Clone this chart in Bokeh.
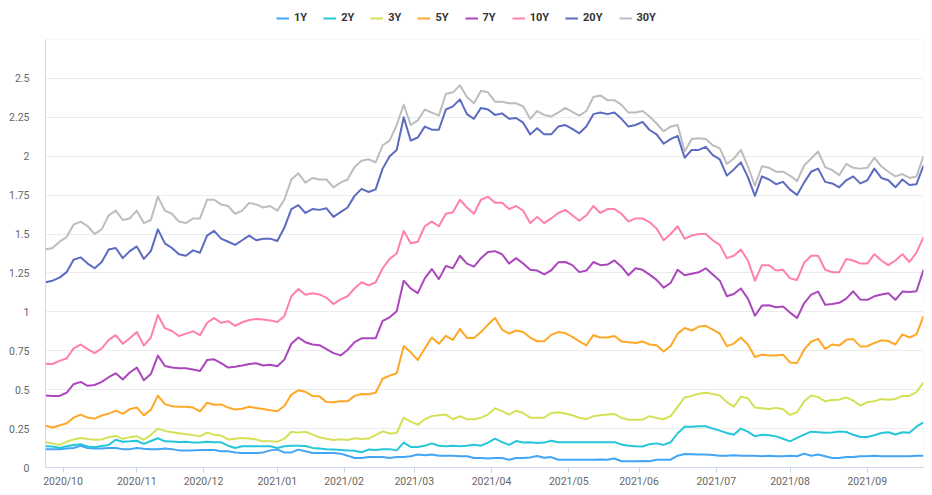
from bokeh.plotting import figure
from bokeh.models import Range1d, FixedTicker, NumeralTickFormatter, Legend, LegendItem, BoxAnnotation
from bokeh.embed import file_html
from bokeh.resources import INLINE

# trading-day index (every second trading day, 2020-09-24 .. 2021-09-24)
day_index = list(range(0, 251, 2))

month_ticks = [5, 26, 45, 66, 85, 105, 127, 149, 169, 191, 212, 234]
month_labels = ["2020/10", "2020/11", "2020/12", "2021/01", "2021/02", "2021/03",
                "2021/04", "2021/05", "2021/06", "2021/07", "2021/08", "2021/09"]
y_ticks = [0, 0.25, 0.5, 0.75, 1, 1.25, 1.5, 1.75, 2, 2.25, 2.5]
y_plot_top = 2.75

series_names = ["1Y", "2Y", "3Y", "5Y", "7Y", "10Y", "20Y", "30Y"]
series_colors = ["#42a5f5", "#26c6da", "#d4e157", "#ffa726", "#ab47bc", "#ff80ab", "#5c6bc0", "#bdbdbd"]

y1 = [0.118, 0.118, 0.118, 0.122, 0.125, 0.14, 0.125, 0.122, 0.122, 0.125, 0.125, 0.118, 0.118, 0.125, 0.12,
      0.118, 0.118, 0.122, 0.118, 0.11, 0.11, 0.11, 0.113, 0.113, 0.113, 0.104, 0.104, 0.097, 0.093, 0.093,
      0.093, 0.097, 0.11, 0.115, 0.097, 0.097, 0.115, 0.104, 0.093, 0.093, 0.093, 0.093, 0.089,
      0.076, 0.061, 0.061, 0.067, 0.067, 0.067, 0.061, 0.067, 0.067, 0.072, 0.083, 0.078, 0.083, 0.076, 0.076,
      0.076, 0.072, 0.072, 0.061, 0.061, 0.058, 0.061, 0.061, 0.05, 0.061, 0.061, 0.065, 0.074, 0.063, 0.067,
      0.05, 0.05, 0.05, 0.05, 0.05, 0.05, 0.052, 0.05, 0.058, 0.04,
      0.04, 0.04, 0.042, 0.04, 0.05, 0.05, 0.05, 0.076, 0.087, 0.085, 0.083, 0.083, 0.08, 0.076, 0.076,
      0.078, 0.076, 0.076, 0.076, 0.072, 0.076, 0.072, 0.072, 0.076, 0.072, 0.089, 0.076, 0.083, 0.072, 0.061,
      0.061, 0.067, 0.067, 0.072, 0.072, 0.076, 0.072, 0.072, 0.072, 0.072, 0.072, 0.076, 0.076]
y2 = [0.136, 0.135, 0.125, 0.136, 0.145, 0.15, 0.135, 0.13, 0.138, 0.145, 0.178, 0.166, 0.168, 0.172, 0.152,
      0.17, 0.188, 0.168, 0.167, 0.164, 0.166, 0.16, 0.16, 0.165, 0.162, 0.162, 0.14, 0.125, 0.136, 0.136,
      0.136, 0.136, 0.136, 0.125, 0.136, 0.14, 0.14, 0.138, 0.126, 0.122, 0.117, 0.115, 0.112,
      0.11, 0.107, 0.098, 0.115, 0.113, 0.117, 0.118, 0.11, 0.16, 0.132, 0.132, 0.14, 0.155, 0.14, 0.137,
      0.14, 0.137, 0.14, 0.146, 0.14, 0.16, 0.185, 0.163, 0.145, 0.17, 0.16, 0.162, 0.157, 0.16, 0.172,
      0.162, 0.162, 0.162, 0.162, 0.162, 0.162, 0.162, 0.162, 0.163, 0.148,
      0.14, 0.136, 0.135, 0.15, 0.155, 0.145, 0.162, 0.22, 0.262, 0.262, 0.265, 0.265, 0.25, 0.237, 0.222,
      0.21, 0.25, 0.23, 0.20, 0.21, 0.207, 0.20, 0.185, 0.168, 0.19, 0.211, 0.23, 0.226, 0.223, 0.225,
      0.231, 0.228, 0.21, 0.196, 0.196, 0.207, 0.222, 0.226, 0.212, 0.226, 0.223, 0.262, 0.29]
y3 = [0.162, 0.155, 0.145, 0.165, 0.18, 0.19, 0.183, 0.179, 0.18, 0.195, 0.203, 0.184, 0.195, 0.20, 0.178,
      0.21, 0.25, 0.235, 0.226, 0.22, 0.213, 0.208, 0.20, 0.224, 0.211, 0.205, 0.18, 0.185, 0.19, 0.187,
      0.18, 0.168, 0.168, 0.165, 0.185, 0.23, 0.224, 0.23, 0.213, 0.194, 0.185, 0.176, 0.182,
      0.177, 0.188, 0.183, 0.186, 0.208, 0.232, 0.218, 0.222, 0.32, 0.295, 0.275, 0.31, 0.33, 0.335, 0.34,
      0.31, 0.329, 0.31, 0.31, 0.32, 0.34, 0.38, 0.362, 0.34, 0.365, 0.35, 0.32, 0.32, 0.32, 0.35,
      0.355, 0.347, 0.336, 0.32, 0.31, 0.33, 0.335, 0.34, 0.344, 0.318,
      0.307, 0.306, 0.307, 0.33, 0.318, 0.31, 0.33, 0.39, 0.45, 0.46, 0.474, 0.48, 0.472, 0.463, 0.42,
      0.39, 0.455, 0.445, 0.385, 0.38, 0.376, 0.383, 0.374, 0.338, 0.355, 0.425, 0.462, 0.452, 0.425, 0.434,
      0.436, 0.45, 0.43, 0.398, 0.42, 0.425, 0.44, 0.436, 0.44, 0.46, 0.46, 0.485, 0.547]
y5 = [0.269, 0.257, 0.27, 0.284, 0.32, 0.34, 0.32, 0.314, 0.334, 0.346, 0.365, 0.345, 0.375, 0.386, 0.335,
      0.37, 0.462, 0.407, 0.393, 0.39, 0.39, 0.385, 0.361, 0.416, 0.403, 0.405, 0.385, 0.372, 0.377, 0.39,
      0.382, 0.376, 0.368, 0.361, 0.395, 0.468, 0.496, 0.486, 0.46, 0.457, 0.42, 0.419, 0.425,
      0.425, 0.46, 0.472, 0.47, 0.48, 0.57, 0.59, 0.605, 0.78, 0.74, 0.69, 0.765, 0.835, 0.795, 0.846,
      0.82, 0.89, 0.832, 0.832, 0.87, 0.918, 0.96, 0.886, 0.86, 0.88, 0.87, 0.835, 0.811, 0.811, 0.852,
      0.87, 0.864, 0.839, 0.81, 0.785, 0.85, 0.835, 0.835, 0.845, 0.81,
      0.804, 0.80, 0.81, 0.79, 0.785, 0.745, 0.779, 0.86, 0.896, 0.88, 0.905, 0.91, 0.886, 0.86, 0.78,
      0.796, 0.835, 0.79, 0.71, 0.725, 0.72, 0.72, 0.725, 0.675, 0.672, 0.757, 0.808, 0.826, 0.762, 0.79,
      0.783, 0.82, 0.825, 0.778, 0.779, 0.80, 0.817, 0.812, 0.79, 0.855, 0.835, 0.855, 0.972]
y7 = [0.462, 0.46, 0.46, 0.48, 0.535, 0.55, 0.525, 0.53, 0.55, 0.58, 0.605, 0.565, 0.61, 0.642, 0.56,
      0.60, 0.719, 0.652, 0.642, 0.637, 0.637, 0.63, 0.62, 0.69, 0.695, 0.67, 0.642, 0.647, 0.655, 0.665,
      0.67, 0.655, 0.66, 0.65, 0.693, 0.795, 0.835, 0.805, 0.79, 0.786, 0.76, 0.735, 0.72,
      0.755, 0.805, 0.83, 0.83, 0.83, 0.942, 0.965, 1.004, 1.20, 1.15, 1.12, 1.215, 1.275, 1.21, 1.295,
      1.28, 1.36, 1.31, 1.29, 1.345, 1.385, 1.39, 1.37, 1.31, 1.345, 1.31, 1.27, 1.265, 1.24, 1.267,
      1.318, 1.32, 1.30, 1.255, 1.265, 1.32, 1.30, 1.304, 1.33, 1.29,
      1.235, 1.28, 1.27, 1.239, 1.205, 1.155, 1.186, 1.27, 1.235, 1.245, 1.254, 1.28, 1.24, 1.20, 1.10,
      1.115, 1.15, 1.085, 0.975, 1.04, 1.042, 1.03, 1.035, 0.995, 0.96, 1.055, 1.11, 1.13, 1.046, 1.05,
      1.058, 1.085, 1.132, 1.079, 1.077, 1.10, 1.111, 1.12, 1.077, 1.13, 1.128, 1.132, 1.27]
y10 = [0.667, 0.665, 0.685, 0.70, 0.765, 0.79, 0.76, 0.735, 0.765, 0.82, 0.85, 0.795, 0.83, 0.87, 0.783,
       0.835, 0.98, 0.895, 0.877, 0.845, 0.86, 0.875, 0.85, 0.93, 0.96, 0.93, 0.94, 0.91, 0.933, 0.948,
       0.954, 0.95, 0.945, 0.935, 0.972, 1.10, 1.147, 1.11, 1.12, 1.112, 1.09, 1.05, 1.08,
       1.10, 1.15, 1.19, 1.17, 1.19, 1.28, 1.34, 1.375, 1.52, 1.44, 1.45, 1.55, 1.58, 1.55, 1.63,
       1.64, 1.72, 1.67, 1.63, 1.72, 1.74, 1.70, 1.70, 1.66, 1.68, 1.65, 1.57, 1.61, 1.57, 1.60,
       1.635, 1.655, 1.62, 1.585, 1.62, 1.68, 1.635, 1.66, 1.66, 1.63,
       1.58, 1.60, 1.60, 1.575, 1.535, 1.46, 1.50, 1.55, 1.47, 1.49, 1.50, 1.50, 1.46, 1.43, 1.345,
       1.36, 1.40, 1.33, 1.20, 1.30, 1.30, 1.265, 1.27, 1.215, 1.205, 1.315, 1.36, 1.36, 1.27, 1.255,
       1.255, 1.34, 1.33, 1.31, 1.31, 1.37, 1.33, 1.30, 1.33, 1.37, 1.32, 1.38, 1.48]
y20 = [1.19, 1.20, 1.22, 1.255, 1.335, 1.35, 1.31, 1.28, 1.32, 1.40, 1.41, 1.345, 1.39, 1.42, 1.34,
       1.39, 1.53, 1.44, 1.41, 1.37, 1.36, 1.395, 1.38, 1.49, 1.52, 1.47, 1.45, 1.43, 1.46, 1.49,
       1.46, 1.47, 1.47, 1.455, 1.54, 1.66, 1.685, 1.635, 1.66, 1.655, 1.665, 1.61, 1.64,
       1.67, 1.745, 1.79, 1.77, 1.787, 1.92, 2.00, 2.04, 2.25, 2.10, 2.12, 2.19, 2.17, 2.17, 2.30,
       2.32, 2.365, 2.27, 2.24, 2.31, 2.30, 2.265, 2.275, 2.24, 2.245, 2.215, 2.14, 2.18, 2.14, 2.14,
       2.19, 2.20, 2.175, 2.147, 2.19, 2.27, 2.28, 2.27, 2.28, 2.24,
       2.19, 2.20, 2.22, 2.168, 2.14, 2.08, 2.11, 2.13, 1.99, 2.04, 2.04, 2.06, 2.007, 1.98, 1.875,
       1.915, 1.96, 1.865, 1.745, 1.87, 1.85, 1.82, 1.835, 1.785, 1.75, 1.83, 1.90, 1.92, 1.835, 1.825,
       1.80, 1.845, 1.87, 1.825, 1.845, 1.92, 1.86, 1.845, 1.80, 1.85, 1.815, 1.82, 1.94]
y30 = [1.40, 1.41, 1.45, 1.48, 1.56, 1.58, 1.55, 1.50, 1.53, 1.62, 1.65, 1.59, 1.60, 1.65, 1.57,
       1.59, 1.74, 1.65, 1.63, 1.58, 1.57, 1.60, 1.60, 1.72, 1.72, 1.69, 1.68, 1.63, 1.65, 1.70,
       1.69, 1.67, 1.68, 1.65, 1.72, 1.85, 1.89, 1.83, 1.86, 1.85, 1.85, 1.80, 1.83,
       1.85, 1.93, 1.97, 1.98, 1.96, 2.07, 2.10, 2.20, 2.33, 2.20, 2.23, 2.30, 2.28, 2.26, 2.40,
       2.41, 2.455, 2.38, 2.34, 2.42, 2.41, 2.35, 2.35, 2.34, 2.34, 2.32, 2.24, 2.29, 2.265, 2.255,
       2.28, 2.31, 2.285, 2.26, 2.29, 2.38, 2.39, 2.36, 2.36, 2.33,
       2.28, 2.28, 2.29, 2.255, 2.21, 2.16, 2.19, 2.20, 2.03, 2.11, 2.115, 2.11, 2.07, 2.05, 1.95,
       1.985, 2.04, 1.935, 1.81, 1.935, 1.925, 1.90, 1.90, 1.875, 1.84, 1.94, 1.985, 2.03, 1.93, 1.91,
       1.877, 1.95, 1.925, 1.92, 1.925, 1.99, 1.935, 1.90, 1.87, 1.885, 1.86, 1.87, 2.00]

series_values = [y1, y2, y3, y5, y7, y10, y20, y30]

# frame spans 0..3.0 so the legend can sit inside it, above the 2.75 plot border
p = figure(width=924, height=493, output_backend="svg", toolbar_location=None,
           x_range=Range1d(0, 250), y_range=Range1d(0, 3.0),
           min_border_left=45, min_border_right=1, min_border_top=0, min_border_bottom=26)

p.background_fill_color = "white"
p.border_fill_color = "white"
p.outline_line_color = None

# plot-area border (top at 2.75, right edge)
p.add_layout(BoxAnnotation(top=y_plot_top, fill_alpha=0, line_color="#e3e3e3", line_width=1))

items = []
for name, col, vals in zip(series_names, series_colors, series_values):
    n = min(len(day_index), len(vals))
    r = p.line(day_index[:n], vals[:n], line_color=col, line_width=2, line_join="round")
    items.append(LegendItem(label=name, renderers=[r]))

# x axis
p.xaxis.ticker = FixedTicker(ticks=month_ticks)
p.xaxis.major_label_overrides = {t: l for t, l in zip(month_ticks, month_labels)}
p.xaxis.minor_tick_line_color = None
p.xaxis.major_tick_in = 0
p.xaxis.major_tick_out = 5
p.xaxis.major_tick_line_color = "#ccd6eb"
p.xaxis.axis_line_color = "#ccd6eb"
p.xaxis.major_label_standoff = 2
p.xaxis.major_label_text_font = "Roboto"
p.xaxis.major_label_text_font_size = "10.5px"
p.xaxis.major_label_text_color = "#666666"
p.xgrid.visible = False

# y axis
p.yaxis.ticker = FixedTicker(ticks=y_ticks)
p.yaxis.formatter = NumeralTickFormatter(format="0.[00]")
p.yaxis.bounds = (0, y_plot_top)
p.yaxis.major_tick_line_color = None
p.yaxis.minor_tick_line_color = None
p.yaxis.axis_line_color = "#ccd6eb"
p.yaxis.major_label_standoff = 10
p.yaxis.major_label_text_font = "Roboto"
p.yaxis.major_label_text_font_size = "10.5px"
p.yaxis.major_label_text_color = "#666666"
p.ygrid.grid_line_color = "#ececec"
p.ygrid.grid_line_width = 1

legend = Legend(items=items, orientation="horizontal", location=(231, 443),
                glyph_width=13, glyph_height=10, label_standoff=5, spacing=16,
                label_width=0, label_height=12,
                padding=2, margin=0, border_line_color=None, background_fill_alpha=0,
                label_text_font="Roboto", label_text_font_size="11px",
                label_text_font_style="bold", label_text_color="#333333")
p.add_layout(legend)

open("out.html", "w").write(file_html(p, INLINE))
